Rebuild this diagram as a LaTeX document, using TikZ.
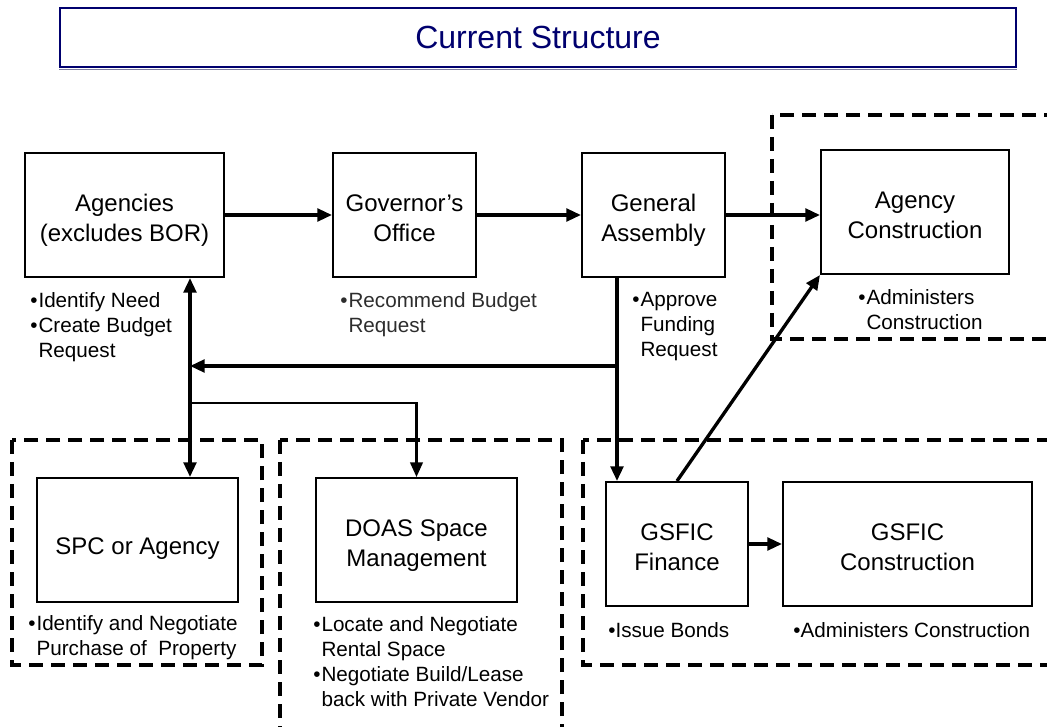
\documentclass[tikz,border=0pt]{standalone}
\usepackage{fontspec}
\setmainfont{Liberation Sans}
\usepackage{xcolor}
\definecolor{titleblue}{RGB}{0,0,110}
\definecolor{notegray}{RGB}{45,45,45}
\usepackage{tikz}
\usetikzlibrary{arrows.meta}
\newcommand{\unitpx}{0.75pt}
\newcommand{\heightbox}{124*\unitpx}
\newcommand{\blt}{\makebox[0.4em][l]{\textbullet}}
\newcommand{\cnt}{\hspace*{0.4em}}
\tikzset{
    common/.style={draw, rectangle, line width=1.5pt, align=center, inner sep=0pt, minimum height=\heightbox, text height=40pt, text depth=0pt, font=\fontsize{18}{22.5}\selectfont},
    box/.style={common, minimum width=#1*\unitpx},
    region/.style={draw, line width=2.8pt, dash pattern=on 10.5pt off 6pt},
    note/.style={anchor=north west, align=left, inner sep=0pt, font=\fontsize{15.5}{18.75}\selectfont},
    link/.style={line width=2.5pt},
    flow/.style={link, -{Triangle[length=11pt, width=9.5pt]}},
    twoway/.style={link, {Triangle[length=11pt, width=9.5pt]}-{Triangle[length=11pt, width=9.5pt]}},
    thinflow/.style={flow, line width=1.6pt}
}

\begin{document}
\begin{tikzpicture}[x=\unitpx, y=-\unitpx]
\useasboundingbox (0,0) rectangle (1047,727);

\node[draw=titleblue, line width=1pt, minimum width=956*\unitpx, minimum height=59*\unitpx, text=titleblue, font=\fontsize{24}{28}\selectfont] (title) at (538,37.5) {Current Structure};
\draw[titleblue!45!gray!70, line width=1.2pt] ([yshift=-1.4pt]title.south west) -- ([yshift=-1.4pt]title.south east);

\draw[region] (12,440) rectangle (262,665);
\draw[region] (280,440) rectangle (562,745);
\draw[region] (583,440) rectangle (1065,665);
\draw[region] (772,115) rectangle (1065,339);

\node[box=199] (agencies) at (124.5,215) {Agencies\\(excludes BOR)};
\node[box=143] (governor) at (404.5,215) {Governor’s\\Office};
\node[box=143] (assembly) at (653.5,215) {General\\Assembly};
\node[box=188] (agencycon) at (915,212) {Agency\\Construction};
\node[box=201, text height=22pt] (spc) at (137.5,540) {SPC or Agency};
\node[box=201] (doas) at (416.5,540) {DOAS Space\\Management};
\node[box=142] (finance) at (677,544) {GSFIC\\Finance};
\node[box=249] (gsficcon) at (907.5,544) {GSFIC\\Construction};

\node[note] (needs) at (30,292) {\blt Identify Need\\\blt Create Budget\\\cnt Request};
\node[note, text=notegray] (recommend) at (340,292) {\blt Recommend Budget\\\cnt Request};
\node[note] (approve) at (632,292) {\blt Approve\\\cnt Funding\\\cnt Request};
\node[note] (administers) at (858,289) {\blt Administers\\\cnt Construction};
\node[note] (purchase) at (28,615) {\blt Identify and Negotiate\\\cnt Purchase of~ Property};
\node[note] (rental) at (313,616) {\blt Locate and Negotiate\\\cnt Rental Space\\\blt Negotiate Build/Lease\\\cnt back with Private Vendor};
\node[note] (bonds) at (608,622) {\textbullet Issue Bonds};
\node[note] (oversee) at (793,622) {\textbullet Administers Construction};

\coordinate (split) at (617,366);
\coordinate (feed) at (190,366);
\coordinate (branch) at (190,403);

\draw[flow] (agencies) -- (governor);
\draw[flow] (governor) -- (assembly);
\draw[flow] (assembly.east) -- (assembly.east -| agencycon.west);
\draw[link] (assembly.south -| split) -- (split);
\draw[flow] (split) -- (finance.north -| split);
\draw[flow] (split) -- (feed);
\draw[twoway] (agencies.south -| feed) -- (spc.north -| feed);
\draw[thinflow] (branch) -| (doas.north);
\draw[flow] (finance.north) -- (agencycon.south west);
\draw[flow] (finance) -- (gsficcon);
\end{tikzpicture}
\end{document}
